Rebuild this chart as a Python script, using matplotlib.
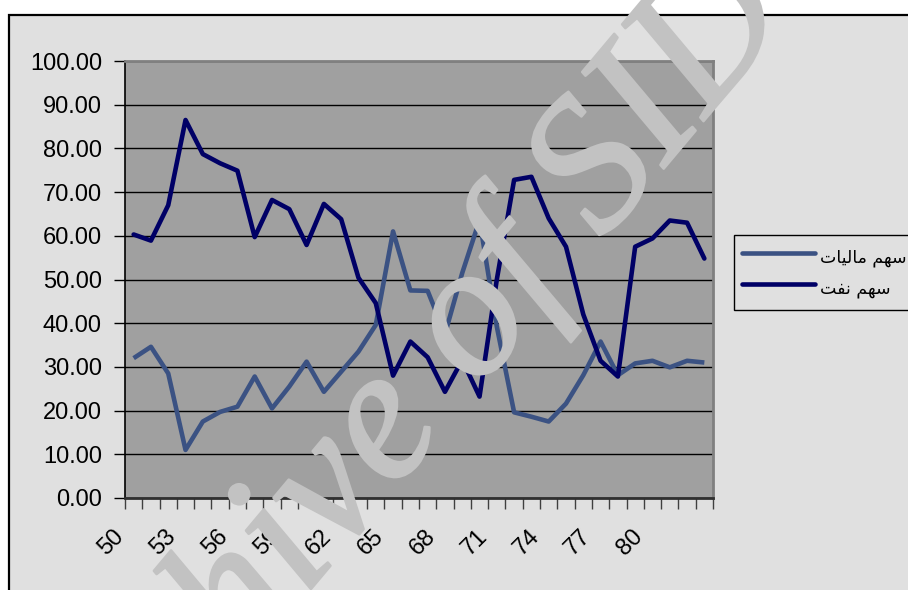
import matplotlib
matplotlib.use('Agg')
import matplotlib.pyplot as plt
import matplotlib.patheffects as pe
from matplotlib.patches import Rectangle
from matplotlib.transforms import ScaledTranslation
import numpy as np

# ---- data ----
years = list(range(50, 84))
finance = [32.0, 34.6, 28.5, 11.0, 17.5, 19.7, 20.9, 27.8, 20.5, 25.5,
           31.2, 24.3, 28.9, 33.5, 39.6, 61.0, 47.5, 47.4, 37.5, 51.5,
           63.6, 39.2, 19.6, 18.6, 17.5, 21.6, 28.1, 35.8, 28.1, 30.8,
           31.4, 29.9, 31.4, 31.0]
oil = [60.3, 58.9, 67.0, 86.5, 78.7, 76.6, 74.9, 59.7, 68.2, 66.1,
       57.9, 67.3, 63.8, 50.4, 44.6, 28.0, 35.8, 32.2, 24.3, 31.6,
       23.2, 50.0, 72.8, 73.5, 64.0, 57.5, 42.0, 31.4, 27.8, 57.5,
       59.4, 63.5, 63.0, 54.8]
tick_years = [50, 53, 56, 59, 62, 65, 68, 71, 74, 77, 80]
y_ticks = [0, 10, 20, 30, 40, 50, 60, 70, 80, 90, 100]
# legend labels (Persian, written in Arabic presentation forms in visual order)
label_finance = "\uFE95\uFE8E\uFEF4\uFEDF\uFE8E\uFEE3 \uFEE2\uFEEC\uFEB3"   # سهم ماليات
label_oil = "\uFE96\uFED4\uFEE7 \uFEE2\uFEEC\uFEB3"                          # سهم نفت

W, H = 908, 590
fig = plt.figure(figsize=(W / 100, H / 100), dpi=100)
fig.patch.set_facecolor('white')

# chart area background with black border
fig.patches.append(Rectangle((8.5 / W, -0.02), 1.1, 1 - 15 / H + 0.02,
                             transform=fig.transFigure, facecolor='#e0e0e0',
                             edgecolor='black', lw=1.6, zorder=-10))

ax = fig.add_axes([125 / W, 1 - 498 / H, (713 - 125) / W, (498 - 61) / H])
ax.set_facecolor('#a0a0a0')

x = np.arange(len(years))
ax.plot(x, finance, color='#3b5283', lw=3.3, solid_joinstyle='round',
        solid_capstyle='butt', label=label_finance, zorder=3)
ax.plot(x, oil, color='#000066', lw=3.3, solid_joinstyle='round',
        solid_capstyle='round', label=label_oil, zorder=4)

ax.set_xlim(-0.5, len(years) - 0.5)
ax.set_ylim(0, 100)

ax.set_yticks(y_ticks)
ax.set_yticklabels([f'{v:.2f}' for v in y_ticks], family='Liberation Sans')
ax.yaxis.grid(True, color='black', lw=1)
ax.set_axisbelow(True)
ax.tick_params(axis='y', length=8, width=1, color='black', pad=8.6,
               labelsize=17, direction='out')

ax.set_xticks(np.arange(-0.5, len(years), 1))
ax.set_xticklabels([])
ax.set_xticks([years.index(t) for t in tick_years], minor=True)
ax.set_xticklabels([str(t) for t in tick_years], minor=True,
                   family='Liberation Sans', rotation=45, ha='right',
                   va='center', rotation_mode='anchor')
ax.tick_params(axis='x', which='major', length=8, width=1, color='#404040',
               direction='out')
ax.tick_params(axis='x', which='minor', length=0, pad=25.5, labelsize=17)
offset = ScaledTranslation(-13 / 100, 0, fig.dpi_scale_trans)
for lab in ax.get_xticklabels(minor=True):
    lab.set_transform(lab.get_transform() + offset)

ax.spines['left'].set_color('black')
ax.spines['left'].set_linewidth(1.2)
ax.spines['bottom'].set_color('#303030')
ax.spines['bottom'].set_linewidth(2)
ax.spines['top'].set_color('#808080')
ax.spines['top'].set_linewidth(2)
ax.spines['right'].set_color('#808080')
ax.spines['right'].set_linewidth(2)

leg = ax.legend(loc='upper left', bbox_to_anchor=(734 / W, 1 - 235 / H),
                bbox_transform=fig.transFigure,
                prop={'family': ['DejaVu Sans'], 'size': 12.5},
                handlelength=4.2, handletextpad=0.3, labelspacing=0.2,
                handleheight=2.1, borderpad=0.45, borderaxespad=0,
                frameon=True, fancybox=False,
                edgecolor='black', facecolor='#e0e0e0', framealpha=1)
leg.get_frame().set_linewidth(1)
for line in leg.get_lines():
    line.set_solid_capstyle('round')

# watermark
fig.text(71 / W, 1 - 875 / H, 'Archive of SID', rotation=50, ha='left',
         va='baseline', rotation_mode='anchor', fontsize=137,
         color='#c2c2c2', family='Liberation Serif', style='italic',
         zorder=20,
         path_effects=[pe.withStroke(linewidth=1.8, foreground='#c2c2c2')])

fig.savefig('out.png', dpi=100)
